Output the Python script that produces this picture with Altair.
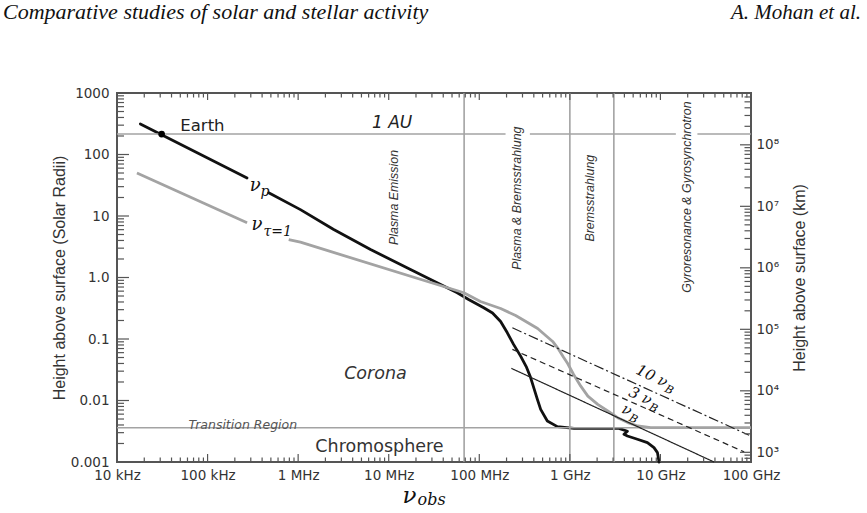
import altair as alt
import pandas as pd

W, H = 634, 369
R_SUN_KM = 6.96e5

# ---------------- axis labels ----------------
x_label_values = [1e4, 1e5, 1e6, 1e7, 1e8, 1e9, 1e10, 1e11]
x_label_text = ["10 kHz", "100 kHz", "1 MHz", "10 MHz", "100 MHz", "1 GHz", "10 GHz", "100 GHz"]
y_label_values = [1e-3, 1e-2, 1e-1, 1.0, 10.0, 100.0, 1000.0]
y_label_text = ["0.001", "0.01", "0.1", "1.0", "10", "100", "1000"]
km_label_values = [1e3, 1e4, 1e5, 1e6, 1e7, 1e8]
km_label_text = ["10³", "10⁴", "10⁵", "10⁶", "10⁷", "10⁸"]

# ---------------- curves (frequency in Hz, height in solar radii) ----------------
# plasma frequency nu_p (black), two pieces around its label
nup_freq_1 = [1.81e4, 2.73e5]
nup_h_1 = [314, 41.6]
nup_freq_2 = [4.73e5, 1.06e6, 2.47e6, 6.30e6, 1.74e7, 5.71e7, 7.62e7, 1.12e8, 1.40e8, 1.72e8,
              2.04e8, 2.39e8, 2.86e8, 3.33e8, 3.68e8, 4.38e8, 4.76e8, 5.64e8, 7.28e8, 1.11e9,
              3.48e9, 4.32e9, 3.96e9, 4.32e9, 5.57e9, 7.18e9, 8.49e9, 9.27e9, 9.66e9]
nup_h_2 = [23.8, 12.7, 6.03, 2.85, 1.35, 0.565, 0.440, 0.322, 0.265, 0.193,
           0.126, 0.0817, 0.0527, 0.0345, 0.0238, 0.0104, 0.00718, 0.00463, 0.00376, 0.00353,
           0.00353, 0.00316, 0.00282, 0.00265, 0.00234, 0.00207, 0.00171, 0.00142, 0.00100]

# optical depth unity nu_tau=1 (grey), two pieces around its label
tau_freq_1 = [1.66e4, 2.73e5]
tau_h_1 = [50.2, 7.74]
tau_freq_2 = [7.87e5, 1.06e6, 6.76e7, 1.03e8, 1.72e8, 2.52e8, 3.41e8, 4.41e8, 5.41e8, 6.46e8,
              7.53e8, 8.55e8, 9.46e8, 1.10e9, 1.32e9, 1.58e9, 2.03e9, 2.62e9, 3.37e9, 4.36e9,
              5.62e9, 7.82e9, 1e11]
tau_h_2 = [4.14, 3.75, 0.565, 0.407, 0.313, 0.241, 0.186, 0.148, 0.114, 0.0912,
           0.0676, 0.0501, 0.0400, 0.0265, 0.0171, 0.0118, 0.00865, 0.00675, 0.00526, 0.00437,
           0.00385, 0.00362, 0.00362]

# gyro harmonics s * nu_B
nuB_harmonic = ["1", "3", "10"]
nuB_freq_start = [2.26e8, 2.32e8, 2.32e8]
nuB_h_start = [0.0333, 0.0678, 0.152]
nuB_freq_end = [3.91e10, 8.40e10, 9.53e10]
nuB_h_end = [0.001, 0.00146, 0.00272]

# reference lines
boundary_freq = [6.8e7, 1.0e9, 3.06e9]
au_height = 215.0
au_seg_start = [1e4, 3.62e8, 2.56e10]
au_seg_end = [1.95e8, 1.48e10, 1e11]
transition_height = 0.0036
earth_freq = [3.11e4]
earth_height = [215.0]

# ---------------- annotations ----------------
region_labels = ["Plasma Emission", "Plasma & Bremsstrahlung", "Bremsstrahlung",
                 "Gyroresonance & Gyrosynchrotron"]
region_label_freq = [1.15e7, 2.62e8, 1.66e9, 1.98e10]
region_label_h = [20.0, 19.5, 19.5, 20.3]

layer_labels = ["Corona", "Chromosphere"]
layer_label_freq = [7.14e6, 7.91e6]
layer_label_h = [0.0271, 0.00177]

nuB_label_main = ["ν", "3 ν", "10 ν"]
nuB_label_freq = [4.50e9, 7.48e9, 1.12e10]
nuB_label_h = [0.00558, 0.00834, 0.0164]

# ---------------- scales ----------------
xs = alt.Scale(type="log", domain=[1e4, 1e11])
ys = alt.Scale(type="log", domain=[1e-3, 1e3])
kms = alt.Scale(type="log", domain=[1e-3 * R_SUN_KM, 1e3 * R_SUN_KM])

FRAME = "#555555"
GREY = "#a3a3a3"
TXT = "#333333"
SANS = "DejaVu Sans"
SANS2 = "Liberation Sans"
SERIF = "DejaVu Serif"


def X(field="f"):
    return alt.X(f"{field}:Q", scale=xs)


def Y(field="h"):
    return alt.Y(f"{field}:Q", scale=ys)


# ---------------- data tables ----------------
black_df = pd.DataFrame({
    "f": nup_freq_1 + nup_freq_2,
    "h": nup_h_1 + nup_h_2,
    "seg": ["a"] * len(nup_freq_1) + ["b"] * len(nup_freq_2),
})
black_df["i"] = range(len(black_df))
grey_df = pd.DataFrame({
    "f": tau_freq_1 + tau_freq_2,
    "h": tau_h_1 + tau_h_2,
    "seg": ["a"] * len(tau_freq_1) + ["b"] * len(tau_freq_2),
})
grey_df["i"] = range(len(grey_df))

x_labels_expr = f"{x_label_text}[round(log(datum.value)/LN10)-4]"
y_labels_expr = f"{y_label_text}[round(log(datum.value)/LN10)+3]"
km_labels_expr = f"{km_label_text}[round(log(datum.value)/LN10)-3]"

# black curve carries the main axes
black = alt.Chart(black_df).mark_line(color="#111111", strokeWidth=2.8, strokeCap="round",
                                      strokeJoin="round").encode(
    x=alt.X("f:Q", scale=xs, axis=alt.Axis(
        values=x_label_values, labelExpr=x_labels_expr, domain=False, ticks=False, grid=False,
        labelFont=SANS, labelFontSize=13.5, labelColor=TXT, labelPadding=6, labelFlush=False,
        labelOverlap=False, title=None)),
    y=alt.Y("h:Q", scale=ys, axis=alt.Axis(
        values=y_label_values, labelExpr=y_labels_expr, domain=False, ticks=False, grid=False,
        labelFont=SANS, labelFontSize=13.5, labelColor=TXT, labelPadding=8, labelFlush=False,
        labelOverlap=False, title="Height above surface (Solar Radii)", titleFont=SANS2,
        titleFontSize=16, titleFontWeight="normal", titleColor=TXT, titleAngle=270,
        titleX=-58, titleY=H / 2, titleAlign="center", titleBaseline="middle")),
    detail="seg:N",
    order="i:Q",
)

grey = alt.Chart(grey_df).mark_line(color=GREY, strokeWidth=2.8, strokeJoin="round").encode(
    x=X(), y=Y(), detail="seg:N", order="i:Q")

vlines = alt.Chart(pd.DataFrame({"f": boundary_freq})).mark_rule(
    color=GREY, strokeWidth=1.6).encode(x=X())

au_line = alt.Chart(pd.DataFrame({"f": au_seg_start, "f2": au_seg_end,
                                  "h": [au_height] * len(au_seg_start)})).mark_rule(
    color=GREY, strokeWidth=1.6).encode(x=X(), x2="f2:Q", y=Y())

tr_line = alt.Chart(pd.DataFrame({"f": [1e4], "f2": [1e11], "h": [transition_height]})).mark_rule(
    color=GREY, strokeWidth=1.6).encode(x=X(), x2="f2:Q", y=Y())

nuB_df = pd.DataFrame({"harm": nuB_harmonic, "f": nuB_freq_start, "h": nuB_h_start,
                       "f2": nuB_freq_end, "h2": nuB_h_end})
nuB_lines = alt.Chart(nuB_df).mark_rule(color="#222222", strokeWidth=1.2).encode(
    x=X(), y=Y(), x2="f2:Q", y2="h2:Q",
    strokeDash=alt.StrokeDash("harm:N", scale=alt.Scale(domain=["1", "3", "10"],
                                                          range=[[1, 0], [6, 4], [10, 3, 2, 3]]),
                              legend=None))

earth = alt.Chart(pd.DataFrame({"f": earth_freq, "h": earth_height})).mark_point(
    filled=True, color="#000000", size=45, opacity=1).encode(x=X(), y=Y())

# ---------------- tick marks (drawn inward) ----------------
x_minor = [m * 10.0 ** k for k in range(4, 11) for m in range(2, 10)]
y_minor = [m * 10.0 ** k for k in range(-3, 3) for m in range(2, 10)]
km_minor = [m * 10.0 ** k for k in range(2, 9) for m in range(2, 10)
            if 1e-3 * R_SUN_KM <= m * 10.0 ** k <= 1e3 * R_SUN_KM]


def vticks(values, y0, y1):
    return alt.Chart(pd.DataFrame({"f": values})).mark_rule(color=FRAME, strokeWidth=1.2).encode(
        x=X(), y=alt.value(y0), y2=alt.value(y1))


def hticks(values, x0, x1):
    return alt.Chart(pd.DataFrame({"h": values})).mark_rule(color=FRAME, strokeWidth=1.2).encode(
        y=Y(), x=alt.value(x0), x2=alt.value(x1))


ticks = [
    vticks(x_label_values, H, H - 8), vticks(x_minor, H, H - 4.5),
    vticks(x_label_values, 0, 7), vticks(x_minor, 0, 4.5),
    hticks(y_label_values, 0, 12), hticks(y_minor, 0, 7),
]

# ---------------- text annotations ----------------
region_txt = alt.Chart(pd.DataFrame({"label": region_labels, "f": region_label_freq,
                                     "h": region_label_h})).mark_text(
    angle=270, font=SANS2, fontSize=12.4, fontStyle="italic", color=TXT,
    align="center", baseline="middle").encode(x=X(), y=Y(), text="label:N")

corona_txt = alt.Chart(pd.DataFrame({"label": layer_labels[:1], "f": layer_label_freq[:1],
                                     "h": layer_label_h[:1]})).mark_text(
    font=SANS, fontSize=17.5, fontStyle="italic", color=TXT, align="center",
    baseline="middle").encode(x=X(), y=Y(), text="label:N")

chromo_txt = alt.Chart(pd.DataFrame({"label": layer_labels[1:], "f": layer_label_freq[1:],
                                     "h": layer_label_h[1:]})).mark_text(
    font=SANS, fontSize=17.5, color=TXT, align="center",
    baseline="middle").encode(x=X(), y=Y(), text="label:N")

tr_txt = alt.Chart(pd.DataFrame({"label": ["Transition Region"], "f": [2.45e5],
                                 "h": [transition_height]})).mark_text(
    font=SANS, fontSize=12.5, fontStyle="italic", color="#555555", align="center",
    baseline="alphabetic", dy=1).encode(x=X(), y=Y(), text="label:N")

earth_txt = alt.Chart(pd.DataFrame({"label": ["Earth"], "f": [5.0e4], "h": [au_height]})).mark_text(
    font=SANS, fontSize=16.5, color="#222222", align="left", baseline="alphabetic",
    dy=-3).encode(x=X(), y=Y(), text="label:N")

au_txt = alt.Chart(pd.DataFrame({"label": ["1 AU"], "f": [1.09e7], "h": [au_height]})).mark_text(
    font=SANS, fontSize=17, fontStyle="italic", color="#222222", align="center",
    baseline="alphabetic", dy=-6).encode(x=X(), y=Y(), text="label:N")

# math labels: main symbol right-aligned at anchor, subscript left-aligned
math_df = pd.DataFrame({"main": ["ν", "ν"], "sub": ["p", "τ=1"],
                        "f": [3.85e5, 4.04e5], "h": [25.2, 6.03]})
math_main = alt.Chart(math_df).mark_text(font=SERIF, fontSize=18, fontStyle="italic",
                                         color="#111111", align="right",
                                         baseline="alphabetic").encode(
    x=X(), y=Y(), text="main:N")
sub_p = alt.Chart(math_df.iloc[:1]).mark_text(font=SERIF, fontSize=14, fontStyle="italic",
                                             color="#111111", align="left", baseline="alphabetic",
                                             dx=0, dy=5).encode(x=X(), y=Y(), text="sub:N")
sub_tau = alt.Chart(math_df.iloc[1:]).mark_text(font=SERIF, fontSize=14, fontStyle="italic",
                                               color="#111111", align="left", baseline="alphabetic",
                                               dx=1, dy=6.5).encode(x=X(), y=Y(), text="sub:N")

nuB_df_lbl = pd.DataFrame({"label": nuB_label_main, "f": nuB_label_freq, "h": nuB_label_h})
nuB_main_txt = alt.Chart(nuB_df_lbl).mark_text(font=SERIF, fontSize=15, fontStyle="italic",
                                               color="#111111", angle=25, align="right",
                                               baseline="alphabetic").encode(
    x=X(), y=Y(), text="label:N")
nuB_sub_txt = alt.Chart(nuB_df_lbl).mark_text(font=SERIF, fontSize=11, fontStyle="italic",
                                              color="#111111", angle=25, align="left",
                                              baseline="alphabetic", dx=1, dy=4).encode(
    x=X(), y=Y(), text=alt.value("B"))

obs_df = pd.DataFrame({"f": [2.03e7]})
obs_main = alt.Chart(obs_df).mark_text(font=SERIF, fontSize=23, fontStyle="italic",
                                       color="#111111", align="right", baseline="alphabetic").encode(
    x=X(), y=alt.value(H + 41), text=alt.value("ν"))
obs_sub = alt.Chart(obs_df).mark_text(font=SERIF, fontSize=16, fontStyle="italic",
                                      color="#111111", align="left", baseline="alphabetic",
                                      dx=1).encode(
    x=X(), y=alt.value(H + 43), text=alt.value("obs"))

# page header
header_left = alt.Chart(pd.DataFrame({"label": ["Comparative studies of solar and stellar activity"]})
                        ).mark_text(font="Liberation Serif", fontSize=22, fontStyle="italic",
                                    color="#111111", align="left", baseline="alphabetic").encode(
    x=alt.value(-114), y=alt.value(-74), text="label:N")
header_right = alt.Chart(pd.DataFrame({"label": ["A. Mohan et al."]})).mark_text(
    font="Liberation Serif", fontSize=21, fontStyle="italic", color="#111111", align="right",
    baseline="alphabetic").encode(x=alt.value(W + 110), y=alt.value(-74), text="label:N")

main = alt.layer(
    black, vlines, au_line, tr_line, grey, nuB_lines, *ticks,
    region_txt, corona_txt, chromo_txt, tr_txt, earth_txt, au_txt,
    math_main, sub_p, sub_tau, nuB_main_txt, nuB_sub_txt, obs_main, obs_sub,
    header_left, header_right, earth,
)

km_major_ticks = alt.Chart(pd.DataFrame({"km": km_label_values})).mark_rule(
    color=FRAME, strokeWidth=1.2).encode(
    y=alt.Y("km:Q", scale=kms, axis=alt.Axis(
        orient="right", values=km_label_values, labelExpr=km_labels_expr, domain=False,
        ticks=False, grid=False, labelFont=SANS, labelFontSize=13.5, labelColor=TXT,
        labelPadding=5, labelFlush=False, labelOverlap=False,
        title="Height above surface (km)", titleFont=SANS2, titleFontSize=16,
        titleFontWeight="normal", titleColor=TXT, titleAngle=270, titleX=48, titleY=H / 2,
        titleAlign="center", titleBaseline="middle")),
    x=alt.value(W), x2=alt.value(W - 11))
km_minor_ticks = alt.Chart(pd.DataFrame({"km": km_minor})).mark_rule(
    color=FRAME, strokeWidth=1.2).encode(
    y=alt.Y("km:Q", scale=kms), x=alt.value(W), x2=alt.value(W - 6.5))
km_layer = alt.layer(km_major_ticks, km_minor_ticks)

chart = alt.layer(main, km_layer).resolve_scale(y="independent").properties(
    width=W, height=H,
    padding={"left": 117, "top": 93, "right": 116, "bottom": 51},
    autosize=alt.AutoSizeParams(type="none"),
    background="white",
).configure_view(stroke=FRAME, strokeWidth=2).configure_axis(grid=False)

chart.save("out.html", embed_options={"renderer": "svg", "actions": False})
